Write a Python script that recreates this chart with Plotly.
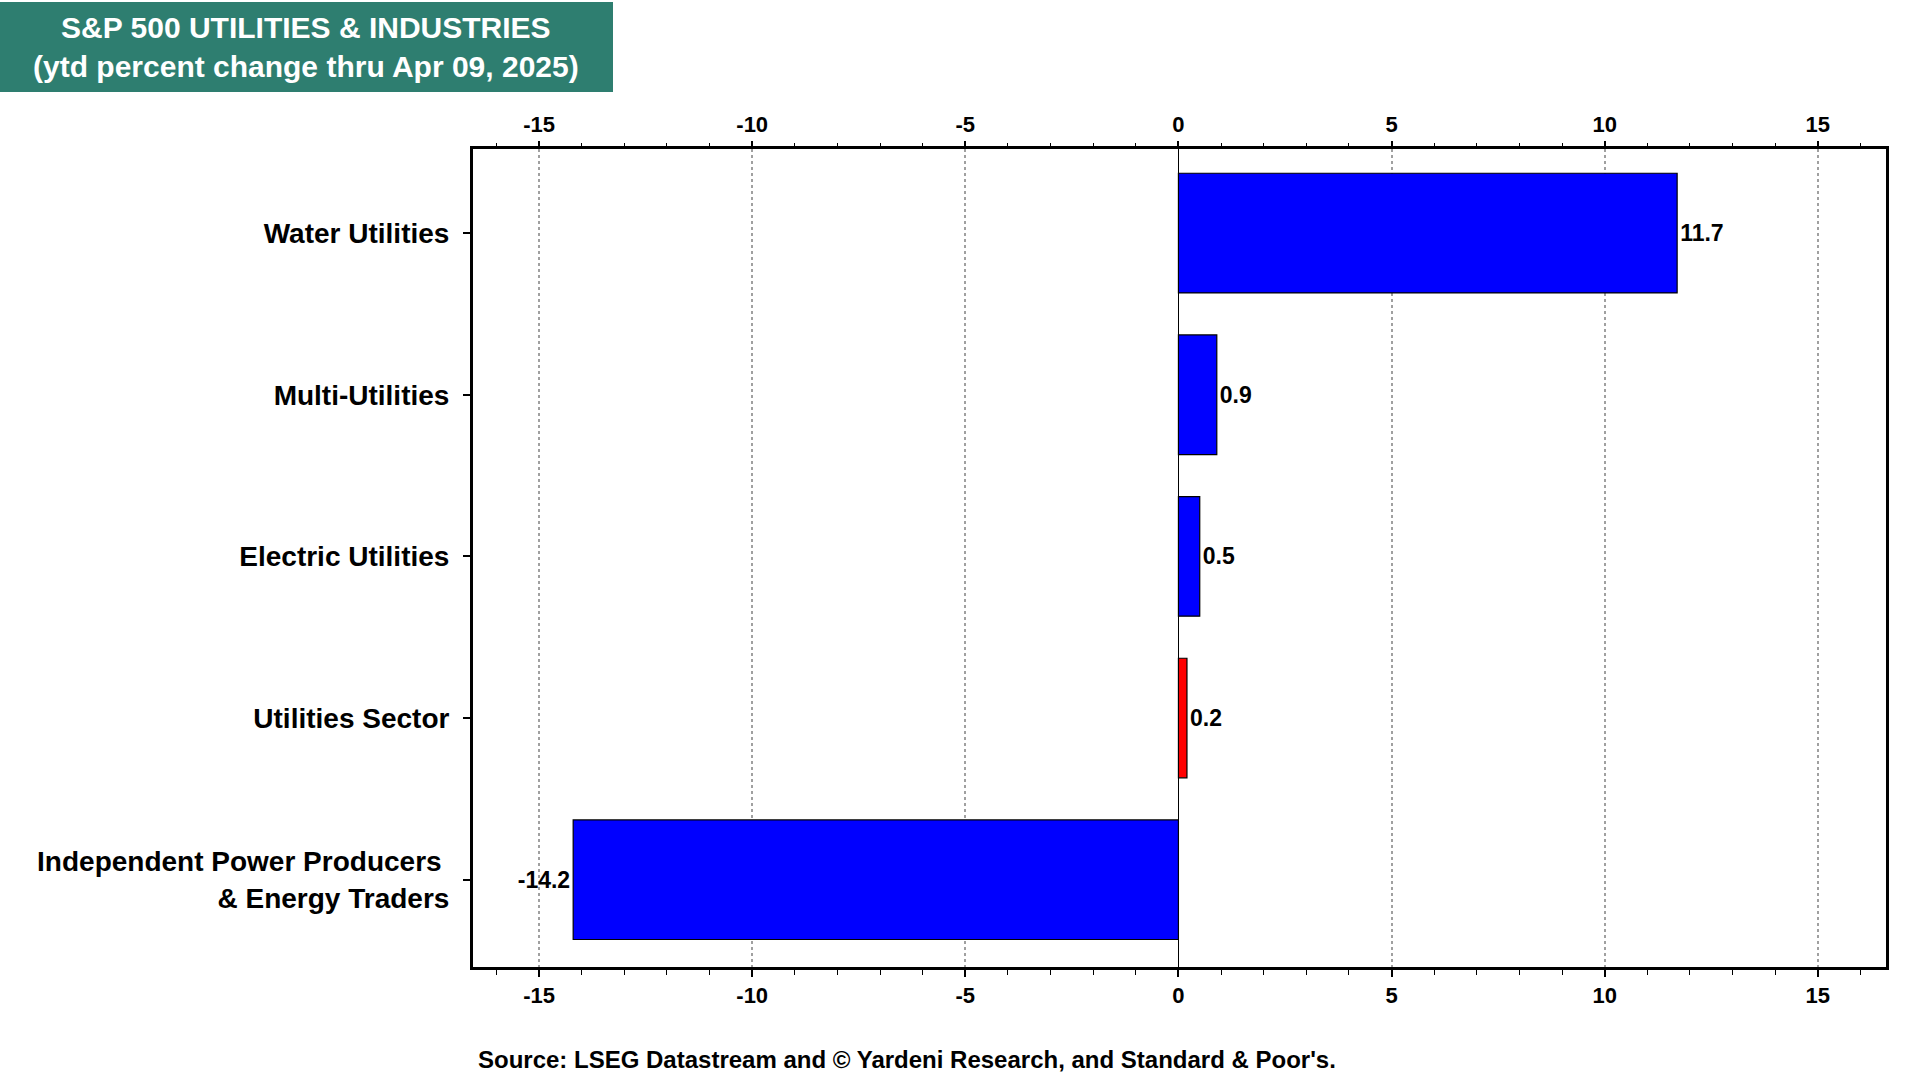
import plotly.graph_objects as go

categories = ["Water Utilities", "Multi-Utilities", "Electric Utilities", "Utilities Sector",
              "Independent Power Producers <br>& Energy Traders"]
values = [11.7, 0.9, 0.5, 0.2, -14.2]
bar_colors = ["#0000FF", "#0000FF", "#0000FF", "#FF0000", "#0000FF"]
x_ticks = [-15, -10, -5, 0, 5, 10, 15]

FONT = "Arial, Liberation Sans, sans-serif"

W, H = 1920, 1080
L, R, T, B = 473, 34, 149, 113
pw, ph = W - L - R, H - T - B


def px(xp):
    return (xp - L) / pw


def py(yp):
    return (H - B - yp) / ph


fig = go.Figure()
fig.add_trace(go.Bar(
    x=values, y=categories, orientation="h",
    marker=dict(color=bar_colors, line=dict(color="black", width=1.2)),
    width=0.74,
    text=[f"{v:.1f}" for v in values], textposition="outside",
    textfont=dict(family=FONT, size=23, color="black", weight="bold"),
    cliponaxis=False, showlegend=False, hoverinfo="x+y",
))
fig.add_trace(go.Scatter(
    x=values, y=categories, xaxis="x2", mode="markers",
    marker=dict(opacity=0), showlegend=False, hoverinfo="skip",
))

axis_common = dict(
    range=[-16.55, 16.6], tickvals=x_ticks, ticktext=[str(t) for t in x_ticks],
    ticks="outside", ticklen=7, tickwidth=1.5, tickcolor="black",
    minor=dict(dtick=1, ticks="outside", ticklen=5, tickwidth=1, tickcolor="black", showgrid=False),
    tickfont=dict(family=FONT, size=22, color="black", weight="bold"),
)

fig.update_layout(
    width=W, height=H,
    margin=dict(l=L, r=R, t=T, b=B),
    paper_bgcolor="white", plot_bgcolor="white",
    xaxis=dict(
        **axis_common,
        showgrid=True, gridcolor="#A0A0A0", griddash="dot", gridwidth=1.5,
        zeroline=True, zerolinecolor="black", zerolinewidth=1,
        showline=True, linecolor="black", linewidth=3, mirror=True,
    ),
    xaxis2=dict(
        **axis_common, overlaying="x", side="top", matches="x",
        showgrid=False, zeroline=False, showline=False,
    ),
    yaxis=dict(
        categoryorder="array", categoryarray=categories,
        range=[4.54, -0.52],
        ticks="outside", ticklen=7, tickwidth=1.5, tickcolor="black",
        ticklabelstandoff=8,
        tickfont=dict(family=FONT, size=28, color="black", weight="bold"),
        showline=True, linecolor="black", linewidth=3, mirror=True,
        showgrid=False, zeroline=False,
    ),
)

fig.add_shape(type="rect", xref="paper", yref="paper",
              x0=px(0), x1=px(613), y0=py(92), y1=py(2),
              fillcolor="#2E7E70", line=dict(width=0), layer="above")
fig.add_annotation(
    xref="paper", yref="paper", x=px(306), y=py(47), xanchor="center", yanchor="middle",
    text="S&P 500 UTILITIES & INDUSTRIES<br>(ytd percent change thru Apr 09, 2025)",
    showarrow=False, align="center",
    font=dict(family=FONT, size=30, color="white", weight="bold"),
)
fig.add_annotation(
    xref="paper", yref="paper", x=px(476), y=py(1059), xanchor="left", yanchor="middle",
    text="Source: LSEG Datastream and © Yardeni Research, and Standard & Poor's.",
    showarrow=False,
    font=dict(family=FONT, size=24, color="black", weight="bold"),
)

fig.write_html("out.html", config={"displayModeBar": False},
               post_script="document.body.style.margin='0';")
